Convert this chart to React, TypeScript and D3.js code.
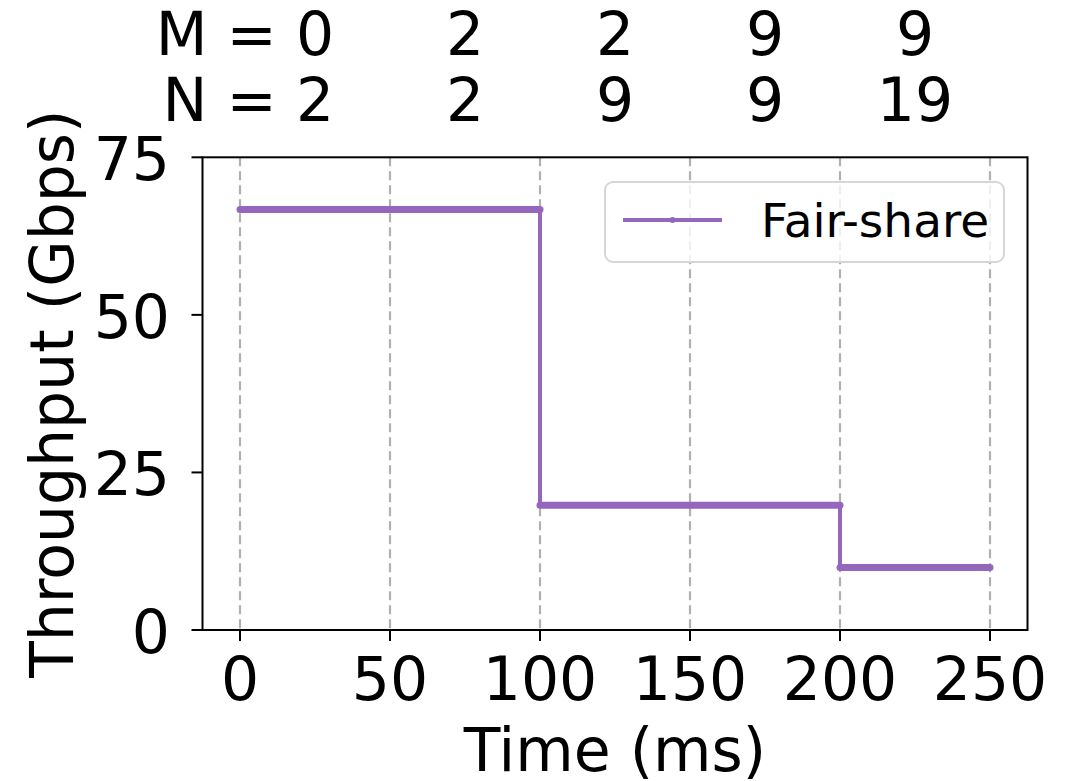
import React from "react";
import * as d3 from "d3";

// Fair-share throughput over time, as a step function
const stepStarts = [0, 100, 200];
const stepEnds = [100, 200, 250];
const fairShare = [66.7, 19.8, 9.9];

// Flow counts annotated above each interval
const countPositions = [25, 75, 125, 175, 225];
const mCounts = ["0", "2", "2", "9", "9"];
const nCounts = ["2", "2", "9", "9", "19"];

const xTicks = [0, 50, 100, 150, 200, 250];
const yTicks = [0, 25, 50, 75];

const W = 1066;
const H = 781;
const FONT = "DejaVu Sans, sans-serif";
const PURPLE = "#9467bd";

export default function App() {
  const left = 202.5;
  const right = 1027.5;
  const top = 157.3;
  const bottom = 630;

  const x = d3.scaleLinear().domain([-12.5, 262.5]).range([left, right]);
  const y = d3.scaleLinear().domain([0, 75]).range([bottom, top]);

  const hLine = d3
    .line<[number, number]>()
    .x((d) => x(d[0]))
    .y((d) => y(d[1]));

  const fs = 60;
  const halfDigit = 0.318 * fs;

  return (
    <svg
      width={W}
      height={H}
      style={{ position: "absolute", left: 0, top: 0, background: "#fff" }}
      fontFamily={FONT}
    >
      <rect x={0} y={0} width={W} height={H} fill="#fff" />

      {/* vertical dashed grid */}
      {xTicks.map((t) => (
        <line
          key={"g" + t}
          x1={x(t)}
          x2={x(t)}
          y1={top}
          y2={bottom}
          stroke="#b0b0b0"
          strokeWidth={2.2}
          strokeDasharray="9,5"
        />
      ))}

      {/* vertical transitions between steps */}
      {fairShare.slice(1).map((v, i) => (
        <path
          key={"v" + i}
          d={hLine([
            [stepStarts[i + 1], fairShare[i]],
            [stepStarts[i + 1], v],
          ]) || ""}
          stroke={PURPLE}
          strokeWidth={4}
          fill="none"
        />
      ))}

      {/* horizontal step segments */}
      {fairShare.map((v, i) => (
        <path
          key={"h" + i}
          d={hLine([
            [stepStarts[i], v],
            [stepEnds[i], v],
          ]) || ""}
          stroke={PURPLE}
          strokeWidth={7}
          strokeLinecap="round"
          fill="none"
        />
      ))}

      {/* spines */}
      <rect
        x={left}
        y={top}
        width={right - left}
        height={bottom - top}
        fill="none"
        stroke="#000"
        strokeWidth={2}
      />

      {/* x axis ticks and labels */}
      {xTicks.map((t) => (
        <g key={"xt" + t}>
          <line x1={x(t)} x2={x(t)} y1={bottom} y2={bottom + 11} stroke="#000" strokeWidth={2} />
          <text x={x(t)} y={bottom + 70} fontSize={fs} textAnchor="middle" fill="#000">
            {t}
          </text>
        </g>
      ))}

      {/* y axis ticks and labels */}
      {yTicks.map((t) => (
        <g key={"yt" + t}>
          <line x1={left - 11} x2={left} y1={y(t)} y2={y(t)} stroke="#000" strokeWidth={2} />
          <text x={170} y={y(t) + 23} fontSize={fs} textAnchor="end" fill="#000">
            {t}
          </text>
        </g>
      ))}

      {/* axis titles */}
      <text x={(left + right) / 2} y={771} fontSize={fs} textAnchor="middle" fill="#000">
        Time (ms)
      </text>
      <text
        transform={`translate(73, ${(top + bottom) / 2}) rotate(-90)`}
        fontSize={fs}
        textAnchor="middle"
        fill="#000"
      >
        Throughput (Gbps)
      </text>

      {/* flow counts above the plot */}
      {countPositions.map((p, i) => {
        const first = i === 0;
        const ax = first ? x(p) + halfDigit : x(p);
        const anchor = first ? "end" : "middle";
        return (
          <g key={"c" + i}>
            <text x={ax} y={55} fontSize={fs} textAnchor={anchor} fill="#000">
              {first ? `M = ${mCounts[i]}` : mCounts[i]}
            </text>
            <text x={ax} y={121} fontSize={fs} textAnchor={anchor} fill="#000">
              {first ? `N = ${nCounts[i]}` : nCounts[i]}
            </text>
          </g>
        );
      })}

      {/* legend */}
      <g>
        <rect
          x={605}
          y={182}
          width={399}
          height={80}
          rx={8}
          ry={8}
          fill="#fff"
          fillOpacity={0.8}
          stroke="#d6d6d6"
          strokeWidth={2}
        />
        <line x1={623} x2={722} y1={220} y2={220} stroke={PURPLE} strokeWidth={4} />
        <circle cx={672.5} cy={220} r={3} fill={PURPLE} />
        <text x={761} y={237} fontSize={47} fill="#000">
          Fair-share
        </text>
      </g>
    </svg>
  );
}
